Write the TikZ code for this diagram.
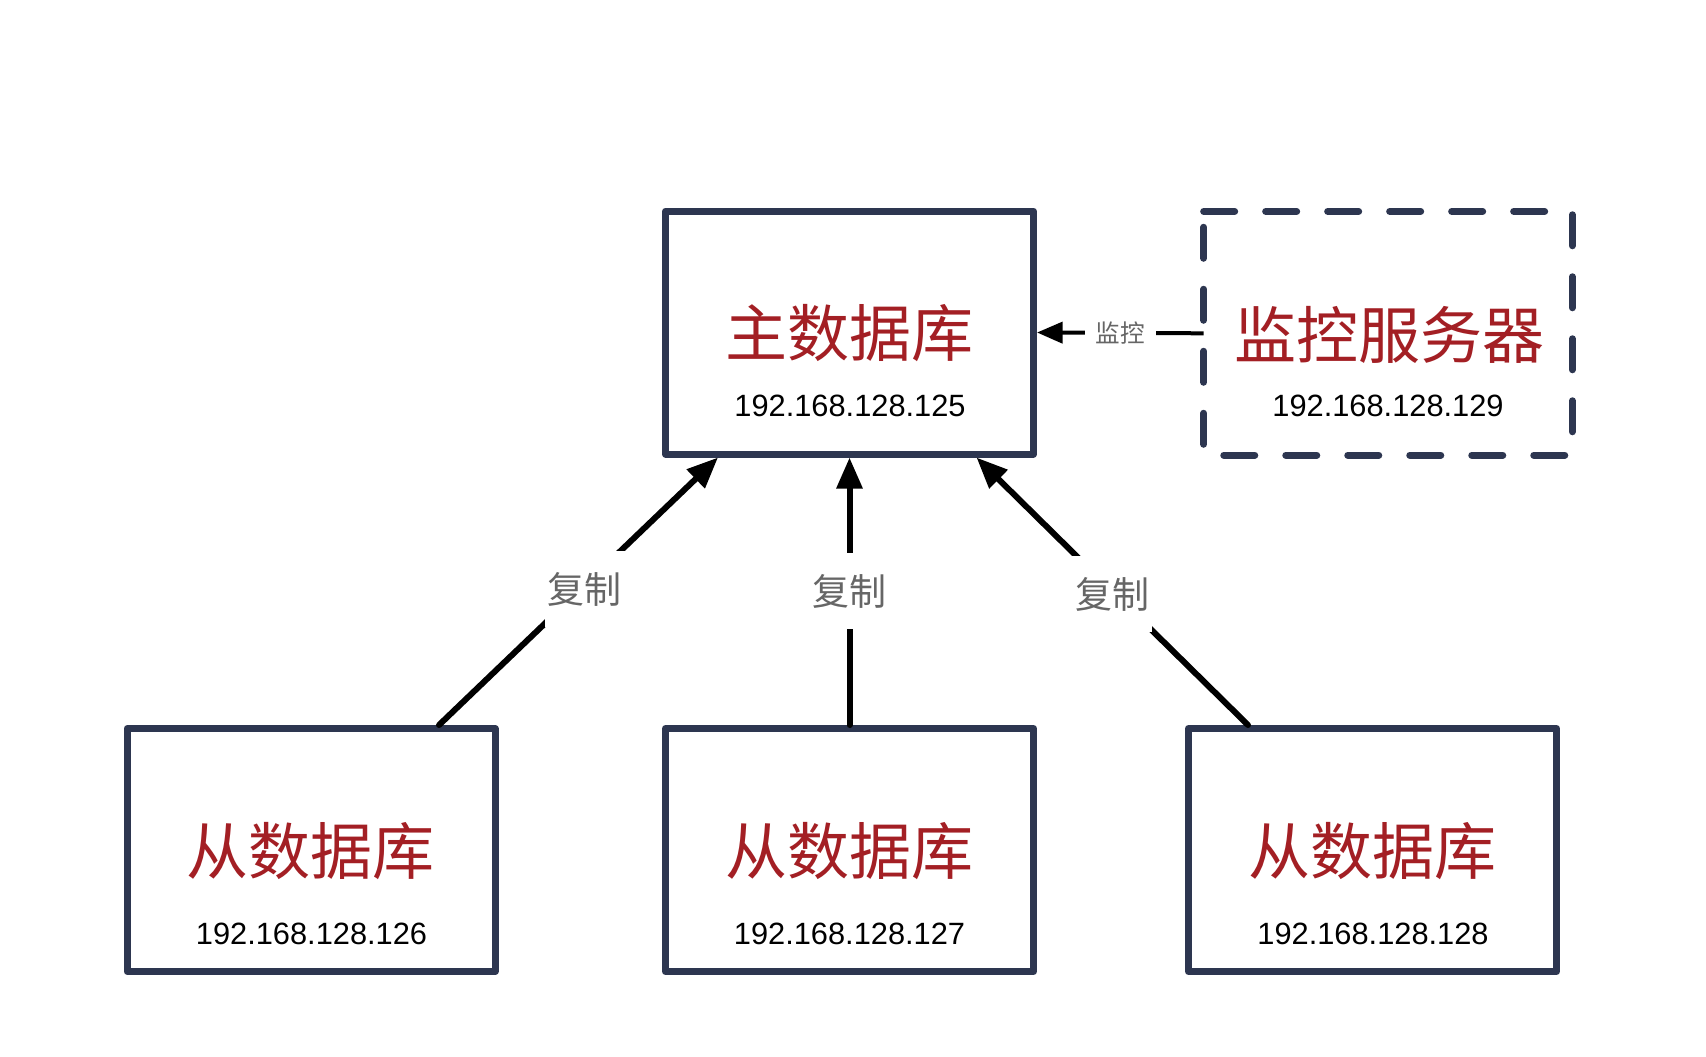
\documentclass[tikz,border=0pt]{standalone}
\usepackage{fontspec}
\setmainfont{Liberation Sans}
\newfontfamily\cjk{Noto Sans CJK SC}
\usetikzlibrary{arrows.meta,calc}
\definecolor{navy}{HTML}{2D3650}
\definecolor{dbred}{HTML}{A31F24}
\definecolor{lblgray}{HTML}{666666}
\begin{document}
\begin{tikzpicture}[x=0.5pt,y=-0.5pt,
  box/.style={draw=navy, line width=3.5pt, line join=round, minimum width=184pt, minimum height=121.5pt, inner sep=0pt},
  dashbox/.style={draw=navy, line width=3.5pt, line cap=round, line join=round, dash pattern=on 15.5pt off 15.5pt},
  title/.style={text=dbred, font=\cjk\fontsize{31pt}{36pt}\selectfont, inner sep=0pt},
  ip/.style={text=black, font=\fontsize{15.4pt}{18pt}\selectfont, inner sep=0pt},
  copyline/.style={draw=black, line width=3pt, line cap=round, -{Triangle[length=15.5pt,width=12.5pt]}},
  monline/.style={draw=black, line width=2pt, -{Triangle[length=12.8pt,width=10.5pt]}},
  copylbl/.style={fill=white, text=lblgray, font=\cjk\fontsize{18.5pt}{22pt}\selectfont, inner xsep=1.5pt, inner ysep=0pt, minimum height=38pt},
  monlbl/.style={fill=white, text=lblgray, font=\cjk\fontsize{12.3pt}{15pt}\selectfont, inner xsep=5.5pt, inner ysep=1pt}
]
\fill[white] (0,0) rectangle (1706,1056);
\useasboundingbox (0,0) rectangle (1706,1056);

% boxes
\node[box] (main) at (849.5,332.5) {};
\node[box] (s1) at (311,850) {};
\node[box] (s2) at (849.5,850) {};
\node[box] (s3) at (1372.5,850) {};
\node[minimum width=184.35pt, minimum height=121.85pt, inner sep=0pt, outer sep=0pt] (mon) at (1388,333.3) {};
\draw[dashbox] (mon.north west) -- (mon.north east) -- (mon.south east) -- (mon.south west) -- cycle;

% texts
\node[title] (mainT) at (849,333) {主数据库};
\node[ip] (mainIP) at (850,406) {192.168.128.125};
\node[title] (monT) at (1389,335) {监控服务器};
\node[ip] (monIP) at (1388,406) {192.168.128.129};
\node[title] (s1T) at (310.5,851) {从数据库};
\node[ip] (s1IP) at (311.5,934) {192.168.128.126};
\node[title] (s2T) at (849.5,851) {从数据库};
\node[ip] (s2IP) at (849.5,934) {192.168.128.127};
\node[title] (s3T) at (1372,851) {从数据库};
\node[ip] (s3IP) at (1373,934) {192.168.128.128};

% connectors
\draw[copyline] ([xshift=64pt]s1.north) -- node[copylbl, xshift=3pt, yshift=1pt] (l1) {复制} ([xshift=-65.75pt]main.south);
\draw[copyline] (s2.north) -- node[copylbl] (l2) {复制} (main.south);
\draw[copyline] ([xshift=-62.25pt]s3.north) -- node[copylbl, yshift=-1.5pt] (l3) {复制} ([xshift=63.5pt]main.south);
\draw[monline] (mon.west) -- node[monlbl] (l4) {监控} (main.east);
\end{tikzpicture}
\end{document}
